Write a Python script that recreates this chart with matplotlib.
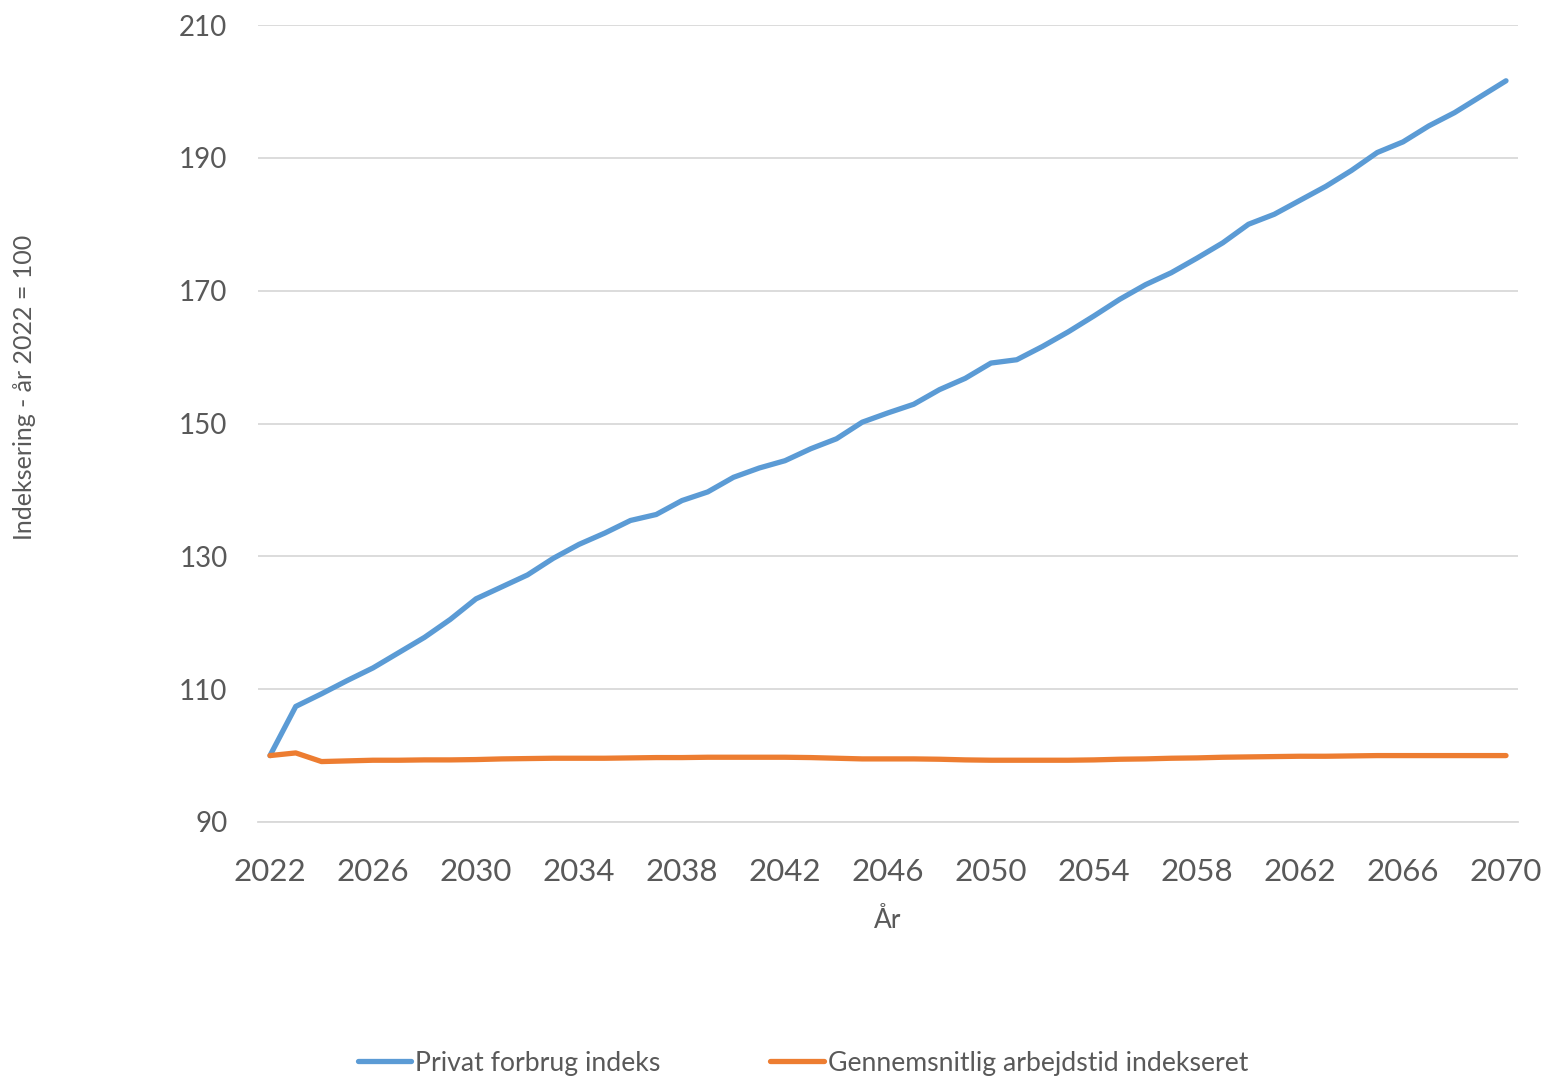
import matplotlib
matplotlib.use("Agg")
import matplotlib.pyplot as plt

plt.rcParams['font.family'] = ['Lato', 'DejaVu Sans']

years = list(range(2022, 2071))

privat_forbrug = [
    100.0, 107.4, 109.3, 111.3, 113.2, 115.5, 117.8, 120.5, 123.6, 125.4,
    127.2, 129.7, 131.8, 133.5, 135.4, 136.3, 138.4, 139.7, 141.9, 143.3,
    144.4, 146.2, 147.7, 150.2, 151.6, 152.9, 155.1, 156.8, 159.1, 159.6,
    161.6, 163.8, 166.2, 168.7, 170.9, 172.7, 174.9, 177.2, 180.0, 181.5,
    183.6, 185.7, 188.1, 190.8, 192.4, 194.8, 196.8, 199.2, 201.6,
]

arbejdstid = [
    100.0, 100.4, 99.1, 99.2, 99.3, 99.3, 99.35, 99.35, 99.4, 99.5,
    99.55, 99.6, 99.6, 99.6, 99.65, 99.7, 99.7, 99.75, 99.75, 99.75,
    99.75, 99.7, 99.6, 99.5, 99.5, 99.5, 99.45, 99.35, 99.3, 99.3,
    99.3, 99.3, 99.35, 99.45, 99.5, 99.6, 99.65, 99.75, 99.8, 99.85,
    99.9, 99.9, 99.95, 100.0, 100.0, 100.0, 100.0, 100.0, 100.0,
]

x_ticks = list(range(2022, 2071, 4))
y_ticks = [90, 110, 130, 150, 170, 190, 210]

text_color = '#595959'

fig = plt.figure(figsize=(15.51, 10.78), dpi=100)
ax = fig.add_axes([258 / 1551, 1 - 822 / 1078, 1260 / 1551, 797 / 1078])

ax.plot(years, privat_forbrug, color='#5B9BD5', lw=3.8, label='Privat forbrug indeks',
        solid_capstyle='round', solid_joinstyle='round')
ax.plot(years, arbejdstid, color='#ED7D31', lw=3.8, label='Gennemsnitlig arbejdstid indekseret',
        solid_capstyle='round', solid_joinstyle='round')

ax.set_ylim(90, 210)
ax.set_xlim(2022 - 12 / 25.75, 2070 + 12 / 25.75)
ax.set_yticks(y_ticks)
ax.set_xticks(x_ticks)
ax.grid(axis='y', color='#D9D9D9', lw=1.3)
ax.set_axisbelow(True)
for s in ['top', 'right', 'left']:
    ax.spines[s].set_visible(False)
ax.spines['bottom'].set_color('#D9D9D9')
ax.spines['bottom'].set_linewidth(1.3)

ax.tick_params(axis='x', length=0, pad=26, labelsize=22.5, labelcolor=text_color)
ax.tick_params(axis='y', length=0, pad=22, labelsize=20, labelcolor=text_color)

ax.set_xlabel('År', fontsize=19, color=text_color, labelpad=16)
fig.text(25 / 1551, 1 - 387 / 1078, 'Indeksering - år 2022 = 100', rotation=90,
         ha='center', va='center', fontsize=18, color=text_color)

fig.legend(loc='center', bbox_to_anchor=(803 / 1551, 1 - 1063 / 1078), ncol=2,
           frameon=False, fontsize=19.2, handlelength=2.0, handletextpad=0.15,
           columnspacing=4.1, labelcolor=text_color)

fig.savefig('out.png', dpi=100)
